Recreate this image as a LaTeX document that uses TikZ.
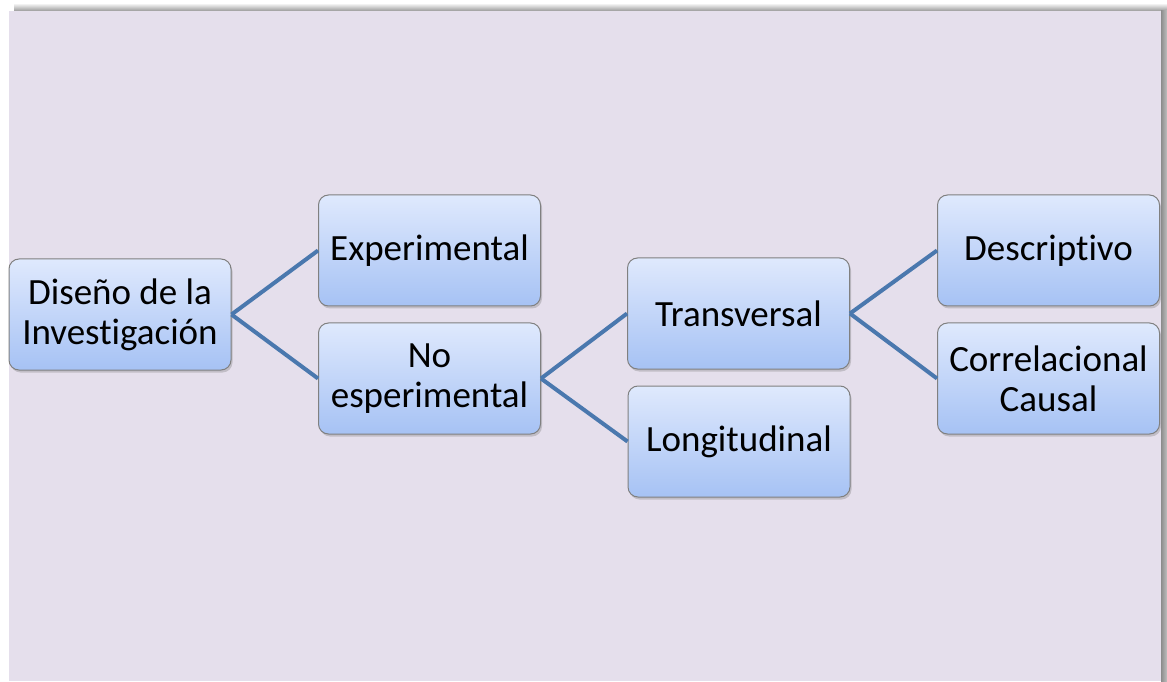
\documentclass[tikz,border=0pt]{standalone}
\usepackage{fontspec}
\setmainfont{Carlito}[Ligatures={NoCommon}]
\usetikzlibrary{shadows}
\definecolor{pagebg}{HTML}{E5DFEC}
\definecolor{boxtop}{HTML}{DFE9FD}
\definecolor{boxbot}{HTML}{A6C2F4}
\definecolor{boxline}{HTML}{808080}
\definecolor{linkcol}{HTML}{4A78AE}
\tikzset{
  box/.style={draw=boxline, line width=1pt, rounded corners=10pt,
    top color=boxtop, bottom color=boxbot,
    minimum width=222pt, minimum height=111pt, inner sep=0pt,
    align=center, font=\fontsize{37}{40}\selectfont,
    drop shadow={opacity=0.35, shadow xshift=1.5pt, shadow yshift=-2.5pt}},
  link/.style={draw=linkcol, line width=4pt}
}
\begin{document}
\begin{tikzpicture}[x=1pt,y=1pt]
  \useasboundingbox (0,0) rectangle (1167,681);
  % page with its soft frame shadow along the top and right
  \fill[white] (0,0) rectangle (1167,681);
  \shade[top color=white, bottom color=black!40] (14,670) rectangle (1167,678);
  \shade[left color=black!45, right color=black!25] (1161,0) rectangle (1167,670);
  \fill[pagebg] (9,0) rectangle (1161,670);

  % boxes
  \node[box] (root) at (120,366.5) {Diseño de la\\Investigación};
  \node[box] (exp)  at (429.5,430.5) {Experimental};
  \node[box] (noexp) at (429.5,302.5) {No\\esperimental};
  \node[box] (trans) at (738.5,367.5) {Transversal};
  \node[box] (longi) at (739,239.5) {Longitudinal};
  \node[box] (desc) at (1048.5,430.5) {Descriptivo};
  \node[box] (corr) at (1048.5,302.5) {Correlacional\\Causal};

  % connectors
  \draw[link] (root.east) -- (exp.west);
  \draw[link] (root.east) -- (noexp.west);
  \draw[link] (noexp.east) -- (trans.west);
  \draw[link] (noexp.east) -- (longi.west);
  \draw[link] (trans.east) -- (desc.west);
  \draw[link] (trans.east) -- (corr.west);
\end{tikzpicture}
\end{document}
